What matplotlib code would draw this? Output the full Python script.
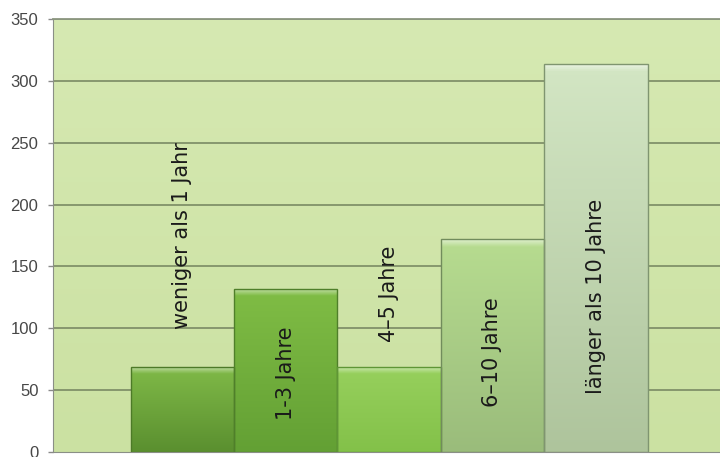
import matplotlib
matplotlib.use("Agg")
import matplotlib.pyplot as plt
import matplotlib.colors as mcolors
import numpy as np

# Dauer der Mitgliedschaft
categories = ["weniger als 1 Jahr", "1-3 Jahre", "4–5 Jahre", "6–10 Jahre", "länger als 10 Jahre"]
counts = [69, 132, 69, 172, 314]
yticks = [0, 50, 100, 150, 200, 250, 300, 350]

# colours (top, bottom) of each bar gradient
bar_top = ["#80ba48", "#80bd45", "#97d05d", "#b7dc90", "#d3e6c4"]
bar_bottom = ["#5a8f2f", "#63a034", "#83c149", "#9abc7b", "#aec49c"]
bar_edge = ["#4d7a28", "#4f7f2a", "#5f9636", "#718c5c", "#7f9570"]
# label anchor heights (centre of the rotated text)
label_y = [175, 64, 128, 81, 126]

fig = plt.figure(figsize=(7.2, 4.57), dpi=100)
ax = fig.add_axes([53 / 720, 5 / 457, 667 / 720, 433 / 457])

xlim = (-1.25, 5.2)
ylim = (0, 350)

# light green plot background
bg = np.linspace(0, 1, 256)[:, None, None]
c_lo = np.array(mcolors.to_rgb("#cbe1a2"))
c_hi = np.array(mcolors.to_rgb("#d6e9b2"))
ax.imshow(c_lo + (c_hi - c_lo) * bg, extent=[xlim[0], xlim[1], ylim[0], ylim[1]],
          origin="lower", aspect="auto", zorder=0)

for y in yticks[1:]:
    ax.axhline(y, color="#7a8a64", lw=1.2, zorder=1)

x = np.arange(len(counts))
bars = ax.bar(x, counts, width=1.0, color="none", edgecolor="none", zorder=2)

for i, b in enumerate(bars):
    h = b.get_height()
    t = np.linspace(0, 1, 200)[:, None, None]
    lo = np.array(mcolors.to_rgb(bar_bottom[i]))
    hi = np.array(mcolors.to_rgb(bar_top[i]))
    grad = lo + (hi - lo) * t
    # glossy strip along the top edge
    hl = np.clip((t - (1 - 6 / h)) / (6 / h), 0, 1)
    grad = grad + (1 - grad) * hl * 0.55
    im = ax.imshow(grad, extent=[b.get_x(), b.get_x() + b.get_width(), 0, h],
                   origin="lower", aspect="auto", zorder=2)
    im.set_clip_path(b)
    ax.bar(b.get_x() + b.get_width() / 2, h, width=b.get_width(), color="none",
           edgecolor=bar_edge[i], linewidth=1.0, zorder=3)
    ax.text(x[i], label_y[i], categories[i], rotation=90, ha="center", va="center",
            fontsize=15, family="DejaVu Sans", color="#1a1a1a", zorder=4)

ax.set_xlim(*xlim)
ax.set_ylim(*ylim)
ax.set_xticks([])
ax.set_yticks(yticks)
ax.set_yticklabels([str(v) for v in yticks], fontsize=12, family="Liberation Sans",
                   color="#474747")
ax.tick_params(axis="y", direction="out", length=3.5, width=1, color="#8a8a8a", pad=7)

ax.spines["right"].set_visible(False)
ax.spines["left"].set_color("#8a8f86")
ax.spines["bottom"].set_color("#8a8f86")
ax.spines["top"].set_color("#8c9680")
ax.spines["top"].set_linewidth(1.3)

fig.savefig("out.png", dpi=100)
